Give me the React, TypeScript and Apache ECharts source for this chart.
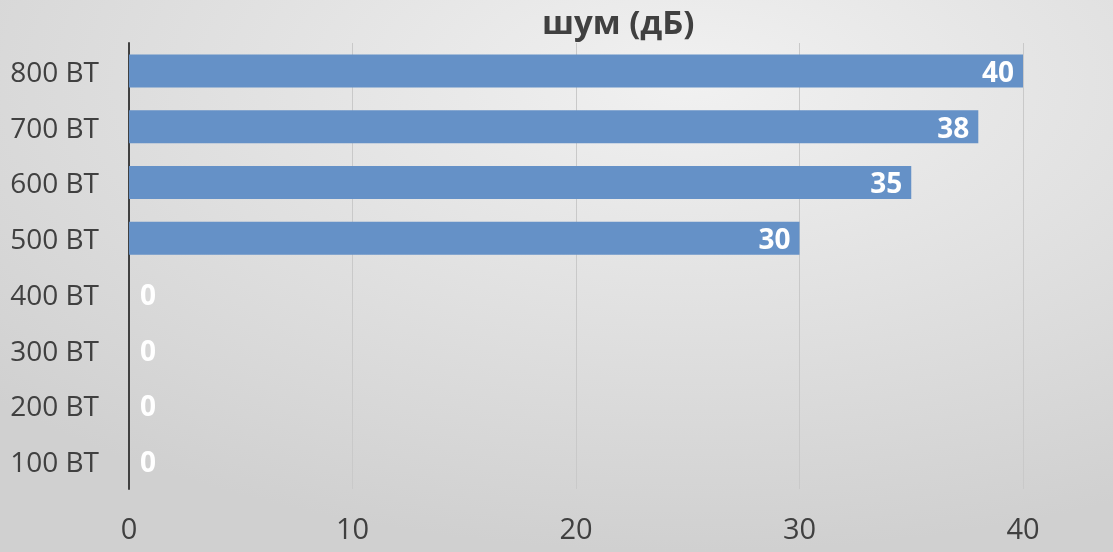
import React, { useEffect, useRef } from "react";
import * as echarts from "echarts";

const categories = ["100 ВТ", "200 ВТ", "300 ВТ", "400 ВТ", "500 ВТ", "600 ВТ", "700 ВТ", "800 ВТ"];
const noiseValues = [0, 0, 0, 0, 30, 35, 38, 40];
const titleText = "шум (дБ)";

export default function App() {
  const ref = useRef<HTMLDivElement>(null);
  useEffect(() => {
    if (!ref.current) return;
    const chart = echarts.init(ref.current, null, { renderer: "svg" });
    const font = "'Open Sans', 'Noto Sans', sans-serif";
    chart.setOption({
      animation: false,
      backgroundColor: new echarts.graphic.RadialGradient(0.62, 0.15, 0.85, [
        { offset: 0, color: "#f1f1f1" },
        { offset: 1, color: "#d0d0d0" },
      ]),
      title: {
        text: titleText,
        left: 537,
        top: 0,
        textStyle: { fontFamily: font, fontSize: 33, fontWeight: "bold", color: "#404040" },
      },
      grid: { left: 129, right: 90, top: 43, bottom: 63, containLabel: false },
      xAxis: {
        type: "value",
        min: 0,
        max: 40,
        interval: 10,
        axisLine: { show: false },
        axisTick: { show: false },
        splitLine: { show: true, lineStyle: { color: "#c9c9c9", width: 1 } },
        axisLabel: { fontFamily: font, fontSize: 29, color: "#404040", margin: 24 },
      },
      yAxis: {
        type: "category",
        data: categories,
        axisLine: { show: true, lineStyle: { color: "#404040", width: 2 } },
        axisTick: { show: false },
        axisLabel: { fontFamily: font, fontSize: 28, color: "#404040", margin: 30 },
      },
      series: [
        {
          type: "bar",
          data: noiseValues.map((v) => ({
            value: v,
            label: v === 0 ? { position: "right", distance: 11 } : { position: "insideRight", distance: 9 },
          })),
          barWidth: 33,
          itemStyle: { color: "#6591c7" },
          label: {
            show: true,
            color: "#ffffff",
            fontFamily: font,
            fontSize: 28,
            fontWeight: "bold",
          },
        },
      ],
    });
    return () => chart.dispose();
  }, []);
  return (
    <div
      ref={ref}
      style={{ position: "fixed", left: 0, top: 0, width: 1113, height: 552 }}
    />
  );
}
